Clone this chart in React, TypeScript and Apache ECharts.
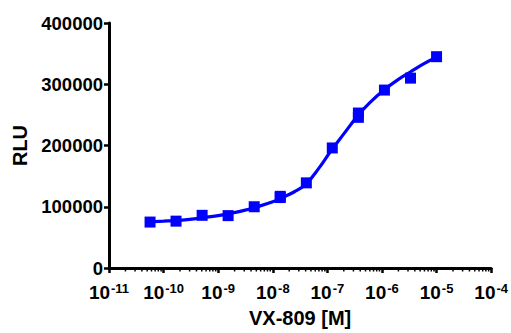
import React, { useEffect, useRef } from "react";
import * as echarts from "echarts";

// Measured points (3-fold dilution series)
const pointConc = [1e-5, 3.33e-6, 1.11e-6, 3.7e-7, 3.7e-7, 1.23e-7, 4.12e-8, 1.37e-8, 1.37e-8, 4.57e-9, 1.52e-9, 5.08e-10, 1.69e-10, 5.65e-11];
const pointRLU = [345000, 310000, 290500, 253000, 246000, 196000, 139000, 117000, 115000, 100000, 85500, 86000, 76500, 75000];

// Fitted curve
const curveConc = [5.65e-11, 1.0e-10, 1.7e-10, 3.0e-10, 5.1e-10, 1.0e-9, 1.5e-9, 3.0e-9, 4.6e-9, 1.0e-8, 1.4e-8, 2.5e-8, 4.1e-8, 7.0e-8, 1.2e-7, 2.0e-7, 3.7e-7, 6.0e-7, 1.1e-6, 2.0e-6, 3.3e-6, 6.0e-6, 1.0e-5];
const curveRLU = [75500, 76500, 77500, 79500, 82000, 85500, 88500, 94000, 98500, 108000, 114000, 124500, 137500, 163000, 193000, 219000, 250000, 270000, 291000, 308000, 320000, 334000, 344000];

// Axis ticks
const yTicks = [0, 100000, 200000, 300000, 400000];
const xDecades = [-11, -10, -9, -8, -7, -6, -5];
const minorMultipliers = [2, 3, 4, 5, 6, 7, 8, 9];

const BLUE = "#0000FF";
const FONT = "'Liberation Sans', Arial, sans-serif";

export default function App() {
  const ref = useRef<HTMLDivElement>(null);
  useEffect(() => {
    if (!ref.current) return;
    const chart = echarts.init(ref.current, null, { renderer: "svg" });
    const minorTicks: number[][] = [];
    xDecades.forEach((d) => minorMultipliers.forEach((m) => minorTicks.push([m * Math.pow(10, d), 0])));
    chart.setOption({
      animation: false,
      backgroundColor: "#ffffff",
      grid: { left: 109, right: 18, top: 23, bottom: 60, containLabel: false },
      xAxis: {
        type: "log",
        logBase: 10,
        min: 1e-11,
        max: 1e-4,
        splitNumber: 7,
        name: "VX-809 [M]",
        nameLocation: "middle",
        nameGap: 40,
        nameTextStyle: { fontFamily: FONT, fontWeight: "bold", fontSize: 20, color: "#000" },
        axisLine: { show: true, lineStyle: { color: "#000", width: 3 } },
        axisTick: { show: true, inside: false, length: 5, lineStyle: { color: "#000", width: 2.5 } },
        minorTick: { show: false },
        splitLine: { show: false },
        axisLabel: {
          margin: 14,
          color: "#000",
          fontFamily: FONT,
          formatter: (v: number) => {
            const e = Math.round(Math.log10(v));
            return "{b|10}{s|" + e + "}";
          },
          rich: {
            b: { fontFamily: FONT, fontWeight: "bold", fontSize: 19, color: "#000", lineHeight: 20, verticalAlign: "bottom" },
            s: { fontFamily: FONT, fontWeight: "bold", fontSize: 13, color: "#000", lineHeight: 20, verticalAlign: "top", padding: [0, 0, 0, 1] },
          },
        },
      },
      yAxis: {
        type: "value",
        min: yTicks[0],
        max: yTicks[yTicks.length - 1],
        interval: 100000,
        name: "RLU",
        nameLocation: "middle",
        nameGap: 77,
        nameTextStyle: { fontFamily: FONT, fontWeight: "bold", fontSize: 20, color: "#000" },
        axisLine: { show: true, lineStyle: { color: "#000", width: 3 } },
        axisTick: { show: true, length: 5, lineStyle: { color: "#000", width: 2.5 } },
        splitLine: { show: false },
        axisLabel: {
          margin: 6,
          color: "#000",
          fontFamily: FONT,
          fontWeight: "bold",
          fontSize: 18.5,
          formatter: (v: number) => String(v),
        },
      },
      series: [
        {
          type: "custom",
          coordinateSystem: "cartesian2d",
          clip: false,
          silent: true,
          data: minorTicks,
          renderItem: (params: any, api: any) => {
            const p = api.coord([api.value(0), api.value(1)]);
            return {
              type: "line",
              shape: { x1: p[0], y1: p[1], x2: p[0], y2: p[1] + 3.5 },
              style: { stroke: "#000", lineWidth: 1.5 },
            };
          },
          z: 1,
        },
        {
          type: "line",
          data: curveConc.map((c, i) => [c, curveRLU[i]]),
          smooth: 0.4,
          showSymbol: false,
          symbol: "none",
          lineStyle: { color: BLUE, width: 3.2 },
          z: 2,
        },
        {
          type: "scatter",
          data: pointConc.map((c, i) => [c, pointRLU[i]]),
          symbol: "rect",
          symbolSize: 11,
          itemStyle: { color: BLUE, opacity: 1 },
          z: 3,
        },
      ],
    });
    return () => chart.dispose();
  }, []);
  return <div ref={ref} style={{ position: "fixed", left: 0, top: 0, width: 511, height: 333 }} />;
}
